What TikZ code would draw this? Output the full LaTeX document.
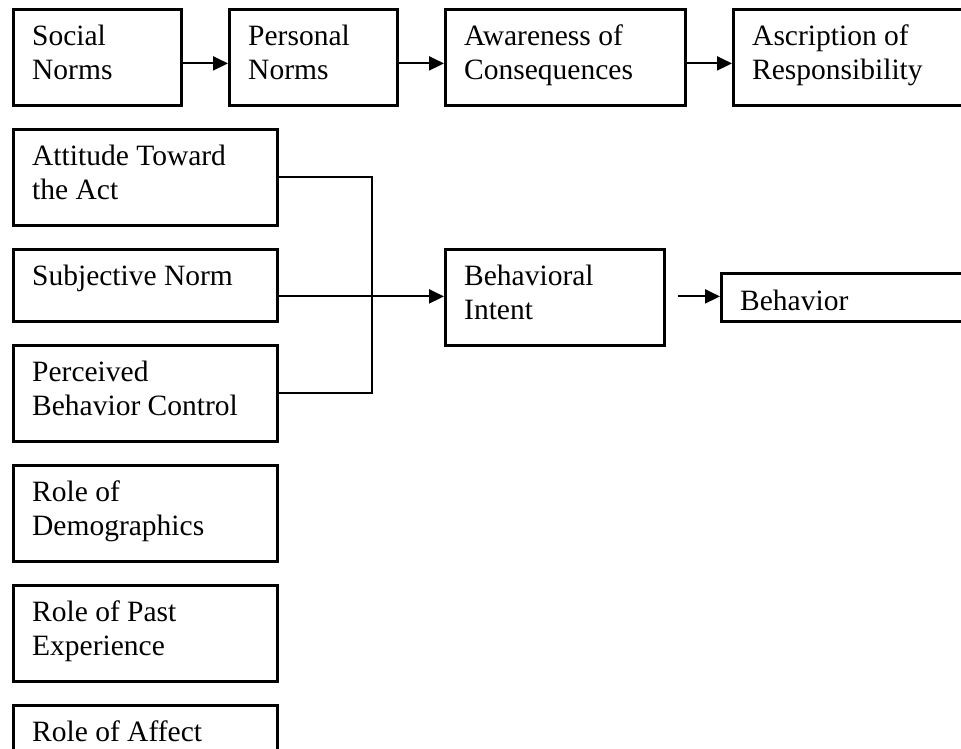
\documentclass[tikz,border=0pt]{standalone}
\usepackage{fontspec}
\setmainfont{Liberation Serif}
\usetikzlibrary{arrows.meta,calc}
\newcommand{\ml}[1]{\begin{tabular}[t]{@{}l@{}}#1\end{tabular}}
\begin{document}
\begin{tikzpicture}[x=1pt,y=-1pt,
  box/.style={draw,line width=2.8pt,rectangle,inner sep=0pt,anchor=north west},
  lbl/.style={anchor=base west,inner sep=0pt,font=\fontsize{29.5}{34}\selectfont},
  conn/.style={line width=2pt},
  arr/.style={line width=2pt,-{Triangle[length=15pt,width=14pt]}}]
\useasboundingbox (0,0) rectangle (961,749);
\clip (0,0) rectangle (961,749);
% boxes
\node[box,minimum width=168pt,minimum height=96pt] (sn) at (12,8) {};
\node[box,minimum width=168pt,minimum height=96pt] (pn) at (228,8) {};
\node[box,minimum width=240pt,minimum height=96pt] (ac) at (444,8) {};
\node[box,minimum width=260pt,minimum height=96pt] (ar) at (732,8) {};
\node[box,minimum width=264pt,minimum height=96pt] (at) at (12,128) {};
\node[box,minimum width=264pt,minimum height=72pt] (sj) at (12,248) {};
\node[box,minimum width=264pt,minimum height=96pt] (pb) at (12,344) {};
\node[box,minimum width=219pt,minimum height=96pt] (bi) at (444,248) {};
\node[box,minimum width=260pt,minimum height=48pt] (bh) at (720,272) {};
\node[box,minimum width=264pt,minimum height=96pt] (rd) at (12,464) {};
\node[box,minimum width=264pt,minimum height=96pt] (rp) at (12,584) {};
\node[box,minimum width=264pt,minimum height=96pt] (ra) at (12,704) {};
% labels
\node[lbl] (tsn) at ($(sn.north west)+(20,38)$) {\ml{Social\\Norms}};
\node[lbl] (tpn) at ($(pn.north west)+(20,38)$) {\ml{Personal\\Norms}};
\node[lbl] (tac) at ($(ac.north west)+(20,38)$) {\ml{Awareness of\\Consequences}};
\node[lbl] (tar) at ($(ar.north west)+(20,38)$) {\ml{Ascription of\\Responsibility}};
\node[lbl] (tat) at ($(at.north west)+(20,37)$) {\ml{Attitude Toward\\the Act}};
\node[lbl] (tsj) at ($(sj.north west)+(20,37)$) {Subjective Norm};
\node[lbl] (tpb) at ($(pb.north west)+(20,37)$) {\ml{Perceived\\Behavior Control}};
\node[lbl] (tbi) at ($(bi.north west)+(20,37)$) {\ml{Behavioral\\Intent}};
\node[lbl] (tbh) at ($(bh.north west)+(20,38)$) {Behavior};
\node[lbl] (trd) at ($(rd.north west)+(20,37)$) {\ml{Role of\\Demographics}};
\node[lbl] (trp) at ($(rp.north west)+(20,37)$) {\ml{Role of Past\\Experience}};
\node[lbl] (tra) at ($(ra.north west)+(20,37)$) {Role of Affect};
% connectors
\draw[arr] ($(sn.east)+(0,6)$) -- ($(pn.west)+(0,6)$);
\draw[arr] ($(pn.east)+(0,6)$) -- ($(ac.west)+(0,6)$);
\draw[arr] ($(ac.east)+(0,6)$) -- ($(ar.west)+(0,6)$);
\coordinate (jx) at (372,0);
\draw[conn] (at.east) -- (at.east -| jx) -- (pb.east -| jx) -- (pb.east);
\draw[arr] ($(sj.east)+(0,11)$) -- ($(bi.west)+(0,-1)$);
\draw[arr] ($(bi.east)+(12,-1)$) -- ($(bh.west)+(0,-1)$);
\end{tikzpicture}
\end{document}
